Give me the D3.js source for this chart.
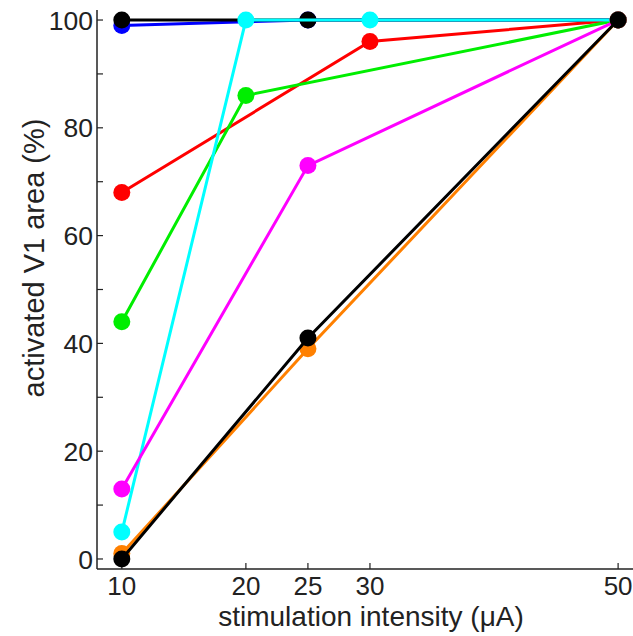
<!DOCTYPE html>
<html>
<head>
<meta charset="utf-8">
<script src="https://cdn.jsdelivr.net/npm/d3@7"></script>
<style>
  body { margin: 0; background: #fff; }
  svg text { font-family: "Liberation Sans", Arial, sans-serif; fill: #222; }
</style>
</head>
<body>
<svg id="chart"></svg>
<script>
// data (stimulation in uA, activated area in %)
var xTicks = [10, 20, 25, 30, 50];
var yTicks = [0, 10, 20, 30, 40, 50, 60, 70, 80, 90, 100];
var yLabels = [0, 20, 40, 60, 80, 100];

var blueX = [10, 25, 50],        blueY = [99, 100, 100];
var blackTopX = [10, 25, 50],    blackTopY = [100, 100, 100];
var redX = [10, 30, 50],         redY = [68, 96, 100];
var greenX = [10, 20, 50],       greenY = [44, 86, 100];
var cyanX = [10, 20, 30, 50],    cyanY = [5, 100, 100, 100];
var magentaX = [10, 25, 50],     magentaY = [13, 73, 100];
var orangeX = [10, 25, 50],      orangeY = [1, 39, 100];
var blackBotX = [10, 25, 50],    blackBotY = [0, 41, 100];

var series = [
  {color: "#0000ff", x: blueX, y: blueY},
  {color: "#000000", x: blackTopX, y: blackTopY},
  {color: "#ff0000", x: redX, y: redY},
  {color: "#00ee00", x: greenX, y: greenY},
  {color: "#00ffff", x: cyanX, y: cyanY},
  {color: "#ff00ff", x: magentaX, y: magentaY},
  {color: "#ff8000", x: orangeX, y: orangeY},
  {color: "#000000", x: blackBotX, y: blackBotY}
];

var W = 633, H = 636;
var svg = d3.select("#chart").attr("width", W).attr("height", H);

var x = d3.scaleLinear().domain([8, 51.2]).range([97, 633]);
var y = d3.scaleLinear().domain([-1.86, 101.86]).range([569, 10]);

// axes lines
svg.append("line").attr("x1", 97).attr("x2", 633).attr("y1", 569).attr("y2", 569)
  .attr("stroke", "#222").attr("stroke-width", 1.5);
svg.append("line").attr("x1", 97).attr("x2", 97).attr("y1", 10).attr("y2", 569)
  .attr("stroke", "#222").attr("stroke-width", 1.5);

// y ticks (inside)
svg.selectAll(".yt").data(yTicks).enter().append("line")
  .attr("x1", 97).attr("x2", 103)
  .attr("y1", function(d) { return y(d); }).attr("y2", function(d) { return y(d); })
  .attr("stroke", "#222").attr("stroke-width", 1.2);
svg.selectAll(".yl").data(yLabels).enter().append("text")
  .attr("x", 93).attr("y", function(d) { return y(d); })
  .attr("dy", "0.36em").attr("text-anchor", "end")
  .attr("font-size", 26.5).text(function(d) { return d; });

// x ticks (inside)
svg.selectAll(".xt").data(xTicks).enter().append("line")
  .attr("x1", function(d) { return x(d); }).attr("x2", function(d) { return x(d); })
  .attr("y1", 569).attr("y2", 563)
  .attr("stroke", "#222").attr("stroke-width", 1.2);
svg.selectAll(".xl").data(xTicks).enter().append("text")
  .attr("x", function(d) { return x(d); }).attr("y", 595)
  .attr("text-anchor", "middle")
  .attr("font-size", 26).text(function(d) { return d; });

// axis titles
svg.append("text").attr("x", 371).attr("y", 626)
  .attr("text-anchor", "middle").attr("font-size", 28)
  .text("stimulation intensity (\u03bcA)");
svg.append("text")
  .attr("transform", "translate(44,258) rotate(-90)")
  .attr("text-anchor", "middle").attr("font-size", 29)
  .text("activated V1 area (%)");

// lines + markers
var line = d3.line()
  .x(function(d) { return x(d[0]); })
  .y(function(d) { return y(d[1]); });

series.forEach(function(s) {
  var pts = s.x.map(function(v, i) { return [v, s.y[i]]; });
  var g = svg.append("g");
  g.append("path").datum(pts).attr("d", line)
    .attr("fill", "none").attr("stroke", s.color).attr("stroke-width", 3);
  g.selectAll("circle").data(pts).enter().append("circle")
    .attr("cx", function(d) { return x(d[0]); })
    .attr("cy", function(d) { return y(d[1]); })
    .attr("r", 8.5).attr("fill", s.color);
});
</script>
</body>
</html>
